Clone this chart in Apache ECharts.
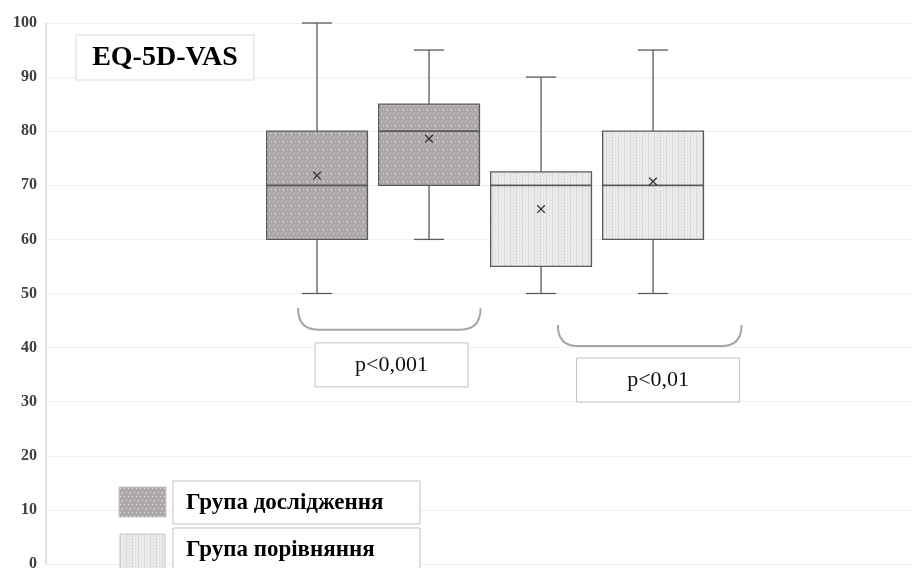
<!DOCTYPE html>
<html>
<head>
<meta charset="utf-8">
<title>EQ-5D-VAS</title>
<script src="https://cdn.jsdelivr.net/npm/echarts@6/dist/echarts.min.js"></script>
<style>
  html, body { margin: 0; padding: 0; background: #ffffff; }
  #chart { width: 912px; height: 568px; }
</style>
</head>
<body>
<div id="chart"></div>
<script>
// Box plot statistics, one entry per box (left to right)
const groups = ['Група дослідження', 'Група дослідження', 'Група порівняння', 'Група порівняння'];
const positions = [1, 2, 3, 4];
const whiskerLow = [50, 60, 50, 50];
const q1 = [60, 70, 55, 60];
const median = [70, 80, 70, 70];
const q3 = [80, 85, 72.5, 80];
const whiskerHigh = [100, 95, 90, 95];
const mean = [71.8, 78.6, 65.6, 70.7];

// Axis ticks
const yMin = 0;
const yMax = 100;
const yStep = 10;

// Legend entries and significance labels
const legendNames = ['Група дослідження', 'Група порівняння'];
const pLabels = ['p<0,001', 'p<0,01'];

const SERIF = '"Liberation Serif", "Times New Roman", serif';

// Textured fills
function makePattern(base, dot, w, h, dots) {
  const c = document.createElement('canvas');
  c.width = w; c.height = h;
  const g = c.getContext('2d');
  g.fillStyle = base;
  g.fillRect(0, 0, w, h);
  g.fillStyle = dot;
  dots.forEach(function (d) { g.fillRect(d[0], d[1], d[2] || 1, d[3] || 1); });
  return c;
}
const darkCanvas = makePattern('#aca8a8', '#dedcdc', 8, 8,
  [[1, 1], [5, 1], [3, 5, 1, 2], [7, 5]]);
const lightCanvas = makePattern('#ebebeb', '#d8d8d8', 6, 6,
  [[0, 0, 1, 6], [3, 2], [3, 5]]);
const fills = {
  'Група дослідження': { image: darkCanvas, repeat: 'repeat' },
  'Група порівняння': { image: lightCanvas, repeat: 'repeat' }
};

const boxData = positions.map(function (p, i) {
  return [p, whiskerLow[i], q1[i], median[i], q3[i], whiskerHigh[i], mean[i], i];
});

const EDGE = '#5a5a5a';

function renderBox(params, api) {
  const x = api.value(0);
  const i = api.value(7);
  const halfW = api.size([0.9, 0])[0] / 2;
  const capW = api.size([0.27, 0])[0] / 2;
  const pLow = api.coord([x, api.value(1)]);
  const pQ1 = api.coord([x, api.value(2)]);
  const pMed = api.coord([x, api.value(3)]);
  const pQ3 = api.coord([x, api.value(4)]);
  const pHigh = api.coord([x, api.value(5)]);
  const pMean = api.coord([x, api.value(6)]);
  const cx = pQ1[0];
  const line = { stroke: EDGE, lineWidth: 1.3 };
  const m = 3.8;
  return {
    type: 'group',
    children: [
      { type: 'line', shape: { x1: cx, y1: pHigh[1], x2: cx, y2: pQ3[1] }, style: line },
      { type: 'line', shape: { x1: cx - capW, y1: pHigh[1], x2: cx + capW, y2: pHigh[1] }, style: line },
      { type: 'line', shape: { x1: cx, y1: pQ1[1], x2: cx, y2: pLow[1] }, style: line },
      { type: 'line', shape: { x1: cx - capW, y1: pLow[1], x2: cx + capW, y2: pLow[1] }, style: line },
      {
        type: 'rect',
        shape: { x: cx - halfW, y: pQ3[1], width: halfW * 2, height: pQ1[1] - pQ3[1] },
        style: { fill: fills[groups[i]], stroke: EDGE, lineWidth: 1.3 }
      },
      { type: 'line', shape: { x1: cx - halfW, y1: pMed[1], x2: cx + halfW, y2: pMed[1] }, style: { stroke: EDGE, lineWidth: 1.8 } },
      { type: 'line', shape: { x1: pMean[0] - m, y1: pMean[1] - m, x2: pMean[0] + m, y2: pMean[1] + m }, style: { stroke: '#333', lineWidth: 1.3 } },
      { type: 'line', shape: { x1: pMean[0] - m, y1: pMean[1] + m, x2: pMean[0] + m, y2: pMean[1] - m }, style: { stroke: '#333', lineWidth: 1.3 } }
    ]
  };
}

// Bracket and label placement (axis units) for each comparison
const bracketLayout = [
  { from: 0.83, to: 2.46, top: 47.3, bottom: 43.3, labelX: 1.665, labelY: 36.8, w: 153, h: 44 },
  { from: 3.15, to: 4.79, top: 44.2, bottom: 40.3, labelX: 4.045, labelY: 34.0, w: 163, h: 44 }
];

function renderBracket(params, api) {
  const k = api.value(0);
  const L = bracketLayout[k];
  const a = api.coord([L.from, L.top]);
  const b = api.coord([L.to, L.bottom]);
  const c = api.coord([L.labelX, L.labelY]);
  const r = 20;
  const path = 'M' + a[0] + ' ' + a[1] +
    ' Q' + a[0] + ' ' + b[1] + ' ' + (a[0] + r) + ' ' + b[1] +
    ' L' + (b[0] - r) + ' ' + b[1] +
    ' Q' + b[0] + ' ' + b[1] + ' ' + b[0] + ' ' + a[1];
  return {
    type: 'group',
    children: [
      {
        type: 'path',
        shape: { pathData: path },
        style: { fill: null, stroke: '#a6a6a6', lineWidth: 2 }
      },
      {
        type: 'rect',
        shape: { x: c[0] - L.w / 2, y: c[1] - L.h / 2, width: L.w, height: L.h },
        style: { fill: '#ffffff', stroke: '#bfbfbf', lineWidth: 1 }
      },
      {
        type: 'text',
        x: c[0], y: c[1],
        style: {
          text: pLabels[k], fill: '#111', font: '22px ' + SERIF,
          align: 'center', verticalAlign: 'middle'
        }
      }
    ]
  };
}

const chart = echarts.init(document.getElementById('chart'), null, { renderer: 'canvas' });

chart.setOption({
  animation: false,
  backgroundColor: '#ffffff',
  grid: { left: 46, right: 0, top: 23, bottom: 4, containLabel: false, outerBoundsMode: 'none' },
  xAxis: {
    type: 'value', min: -1.42, max: 6.312,
    show: false, splitLine: { show: false }
  },
  yAxis: {
    type: 'value', min: yMin, max: yMax, interval: yStep,
    axisLine: { show: true, onZero: false, lineStyle: { color: '#d9d9d9', width: 1.5 } },
    axisTick: { show: false },
    splitLine: { show: true, lineStyle: { color: '#f0f0f0', width: 1 } },
    axisLabel: {
      color: '#404040', fontFamily: SERIF, fontWeight: 'bold', fontSize: 16, margin: 9
    }
  },
  series: [
    {
      name: 'EQ-5D-VAS',
      type: 'custom',
      renderItem: renderBox,
      encode: { x: 0, y: [1, 2, 3, 4, 5] },
      data: boxData,
      z: 3
    },
    {
      name: 'comparisons',
      type: 'custom',
      renderItem: renderBracket,
      encode: { x: 1, y: 2 },
      data: pLabels.map(function (t, k) { return [k, bracketLayout[k].labelX, bracketLayout[k].labelY]; }),
      z: 4
    }
  ],
  graphic: [
    {
      type: 'rect', x: 76, y: 35,
      shape: { width: 178, height: 45 },
      style: { fill: '#ffffff', stroke: '#d9d9d9', lineWidth: 1 }, z: 10
    },
    {
      type: 'text', x: 165, y: 58,
      style: { text: 'EQ-5D-VAS', font: 'bold 28px ' + SERIF, fill: '#000', align: 'center', verticalAlign: 'middle' },
      z: 11
    },
    {
      type: 'rect', x: 119, y: 487,
      shape: { width: 47, height: 30 },
      style: { fill: fills[legendNames[0]], stroke: '#c8c8c8', lineWidth: 1 }, z: 10
    },
    {
      type: 'rect', x: 173, y: 481,
      shape: { width: 247, height: 43 },
      style: { fill: '#ffffff', stroke: '#bfbfbf', lineWidth: 1 }, z: 10
    },
    {
      type: 'text', x: 186, y: 503,
      style: { text: legendNames[0], font: 'bold 23px ' + SERIF, fill: '#000', verticalAlign: 'middle' },
      z: 11
    },
    {
      type: 'rect', x: 120, y: 534,
      shape: { width: 45, height: 40 },
      style: { fill: fills[legendNames[1]], stroke: '#c8c8c8', lineWidth: 1 }, z: 10
    },
    {
      type: 'rect', x: 173, y: 528,
      shape: { width: 247, height: 50 },
      style: { fill: '#ffffff', stroke: '#bfbfbf', lineWidth: 1 }, z: 10
    },
    {
      type: 'text', x: 186, y: 550,
      style: { text: legendNames[1], font: 'bold 23px ' + SERIF, fill: '#000', verticalAlign: 'middle' },
      z: 11
    }
  ]
});
</script>
</body>
</html>
